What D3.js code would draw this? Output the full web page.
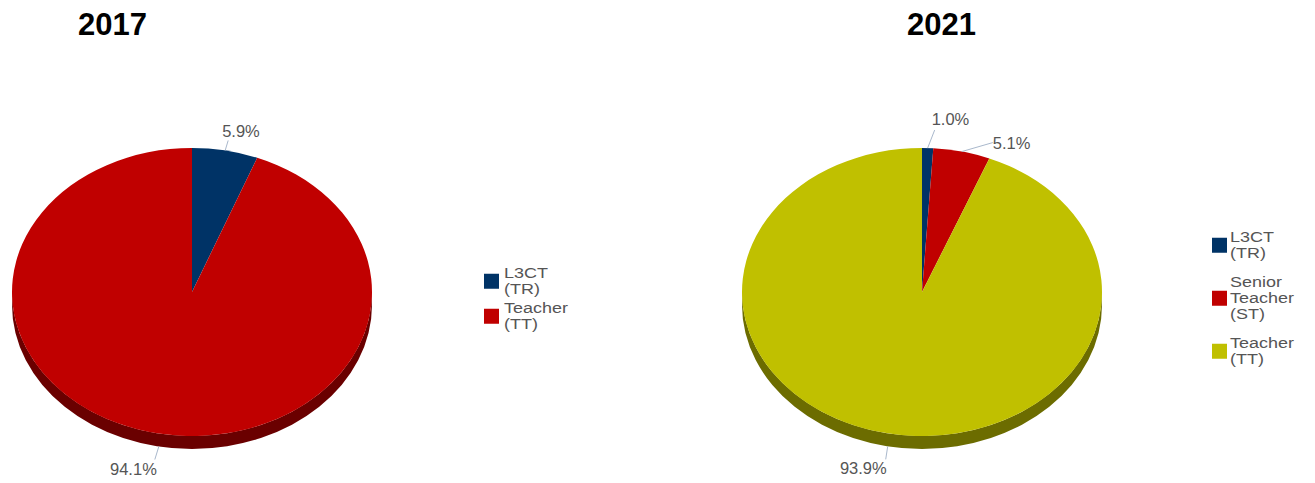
<!DOCTYPE html>
<html>
<head>
<meta charset="utf-8">
<script src="https://cdn.jsdelivr.net/npm/d3@7"></script>
<style>
  html, body { margin: 0; padding: 0; background: #fff; }
  svg { display: block; font-family: "Liberation Sans", Arial, sans-serif; }
</style>
</head>
<body>
<svg id="chart" width="1315" height="483"></svg>
<script>
// Staff composition by position, two survey years
const titles = ["2017", "2021"];

const categories2017 = ["L3CT (TR)", "Teacher (TT)"];
const values2017 = [5.9, 94.1];
const colors2017 = ["#003366", "#c00000"];
const sides2017 = ["#001a33", "#6a0000"];

const categories2021 = ["L3CT (TR)", "Senior Teacher (ST)", "Teacher (TT)"];
const values2021 = [1.0, 5.1, 93.9];
const colors2021 = ["#003366", "#c00000", "#c0c000"];
const sides2021 = ["#001a33", "#6a0000", "#6c6c00"];

// Layout of each panel: pie geometry, title, legend and leader-line offsets
const panels = [
  {
    title: titles[0], cats: categories2017, vals: values2017, colors: colors2017, sides: sides2017,
    cx: 192, cy: 292, rx: 180, ry: 144, depth: 13,
    titleX: 78, titleY: 35,
    legendX: 484, legendTextX: 504, legendTop: 268, itemGap: 3,
    leaders: [
      { dx: 3, dy: -10, tx: -6, ty: -3, anchor: "start" },
      { dx: -4, dy: 13, tx: 2, ty: 15, anchor: "end" }
    ]
  },
  {
    title: titles[1], cats: categories2021, vals: values2021, colors: colors2021, sides: sides2021,
    cx: 922, cy: 292, rx: 180, ry: 144, depth: 13,
    titleX: 907, titleY: 35,
    legendX: 1212, legendTextX: 1230, legendTop: 232, itemGap: 13,
    leaders: [
      { dx: 7, dy: -18, tx: -3, ty: -5, anchor: "start" },
      { dx: 31, dy: -9, tx: 0, ty: 6, anchor: "start" },
      { dx: -2, dy: 13, tx: 1, ty: 15, anchor: "end" }
    ]
  }
];

const svg = d3.select("#chart");
const lineH = 16;
const capH = 10.5;
const legendStretch = 1.24;

const pie = d3.pie().sort(null).value(d => d);

panels.forEach(P => {
  const g = svg.append("g");
  const pt = (a, dy = 0) => [P.cx + P.rx * Math.sin(a), P.cy - P.ry * Math.cos(a) + dy];
  const arcs = pie(P.vals);

  // side walls (front half only)
  arcs.forEach((d, i) => {
    const s = Math.max(d.startAngle, Math.PI / 2);
    const e = Math.min(d.endAngle, 3 * Math.PI / 2);
    if (s >= e) return;
    const p0 = pt(s), p1 = pt(e), q1 = pt(e, P.depth), q0 = pt(s, P.depth);
    const large = (e - s) > Math.PI ? 1 : 0;
    const path = `M${p0[0]},${p0[1]} A${P.rx},${P.ry} 0 ${large} 1 ${p1[0]},${p1[1]}` +
      ` L${q1[0]},${q1[1]} A${P.rx},${P.ry} 0 ${large} 0 ${q0[0]},${q0[1]} Z`;
    g.append("path").attr("d", path).attr("fill", P.sides[i]);
  });

  // top faces
  arcs.forEach((d, i) => {
    const p0 = pt(d.startAngle), p1 = pt(d.endAngle);
    const large = (d.endAngle - d.startAngle) > Math.PI ? 1 : 0;
    const path = `M${P.cx},${P.cy} L${p0[0]},${p0[1]} A${P.rx},${P.ry} 0 ${large} 1 ${p1[0]},${p1[1]} Z`;
    g.append("path").attr("d", path).attr("fill", P.colors[i]);
  });

  // percentage labels with leader lines
  arcs.forEach((d, i) => {
    const mid = (d.startAngle + d.endAngle) / 2;
    const front = mid > Math.PI / 2 && mid < 3 * Math.PI / 2;
    const a = pt(mid, front ? P.depth : 0);
    const L = P.leaders[i];
    const b = [a[0] + L.dx, a[1] + L.dy];
    g.append("line")
      .attr("x1", a[0]).attr("y1", a[1]).attr("x2", b[0]).attr("y2", b[1])
      .attr("stroke", "#a9b8cc").attr("stroke-width", 1);
    g.append("text")
      .attr("x", b[0] + L.tx).attr("y", b[1] + L.ty)
      .attr("text-anchor", L.anchor)
      .attr("font-size", 16.5).attr("fill", "#555")
      .text(d3.format(".1f")(d.data) + "%");
  });

  // title
  svg.append("text")
    .attr("x", P.titleX).attr("y", P.titleY)
    .attr("font-size", 31).attr("font-weight", "bold").attr("fill", "#000")
    .text(P.title);

  // legend
  let top = P.legendTop;
  P.cats.forEach((c, i) => {
    const lines = c.split(" ");
    const lastBase = top + capH + (lines.length - 1) * lineH;
    const center = (top + lastBase) / 2;
    svg.append("rect")
      .attr("x", P.legendX).attr("y", center - 7.5)
      .attr("width", 15).attr("height", 15)
      .attr("fill", P.colors[i]);
    const t = svg.append("text")
      .attr("transform", `translate(${P.legendTextX},0) scale(${legendStretch},1)`)
      .attr("font-size", 14.5).attr("fill", "#555");
    lines.forEach((ln, k) => {
      t.append("tspan").attr("x", 0).attr("y", top + capH + k * lineH).text(ln);
    });
    top += lines.length * lineH + P.itemGap;
  });
});
</script>
</body>
</html>
